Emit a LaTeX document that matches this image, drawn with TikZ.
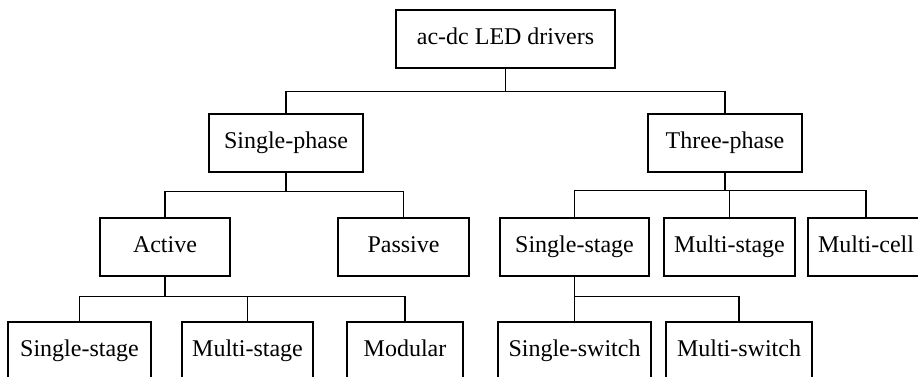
\documentclass[tikz,border=0pt]{standalone}
\usepackage{fontspec}
\setmainfont{Liberation Serif}
\usetikzlibrary{positioning}

\begin{document}
\begin{tikzpicture}[x=1pt,y=-1pt,
  box/.style={draw,line width=1.3pt,minimum height=58pt,inner sep=0pt,text height=16pt,text depth=5pt,font=\fontsize{24}{28}\selectfont},
  link/.style={line width=1.3pt}]
\useasboundingbox (0,0) rectangle (918,377);
\clip (0,0) rectangle (918,377);
\node[box,minimum width=219pt] (root) at (505.5,39) {ac-dc LED drivers};
\node[box,minimum width=154pt] (sph) at (286,143) {Single-phase};
\node[box,minimum width=154pt] (tph) at (725,143) {Three-phase};
\node[box,minimum width=130pt] (act) at (165,247) {Active};
\node[box,minimum width=131pt] (pas) at (403.5,247) {Passive};
\node[box,minimum width=149pt] (tss) at (574.5,247) {Single-stage};
\node[box,minimum width=131pt] (tms) at (729.5,247) {Multi-stage};
\node[box,minimum width=116pt] (tmc) at (866,247) {Multi-cell};
\node[box,minimum width=143pt] (ass) at (79.5,351) {Single-stage};
\node[box,minimum width=131pt] (ams) at (247.5,351) {Multi-stage};
\node[box,minimum width=116pt] (amod) at (405,351) {Modular};
\node[box,minimum width=153pt] (ssw) at (574.5,351) {Single-switch};
\node[box,minimum width=146pt] (msw) at (739,351) {Multi-switch};
\draw[link] (root.south) -- ++(0,23) -| (sph.north); \draw[link] (root.south) -- ++(0,23) -| (tph.north);
\draw[link] (sph.south) -- ++(0,19) -| (act.north); \draw[link] (sph.south) -- ++(0,19) -| (pas.north);
\draw[link] (tph.south) -- ++(0,18) -| (tss.north); \draw[link] (tph.south) -- ++(0,18) -| (tms.north);
\draw[link] (tph.south) -- ++(0,18) -| (tmc.north);
\draw[link] (act.south) -- ++(0,20) -| (ass.north); \draw[link] (act.south) -- ++(0,20) -| (ams.north);
\draw[link] (act.south) -- ++(0,20) -| (amod.north);
\draw[link] (tss.south) -- ++(0,20) -| (ssw.north); \draw[link] (tss.south) -- ++(0,20) -| (msw.north);
\end{tikzpicture}
\end{document}
